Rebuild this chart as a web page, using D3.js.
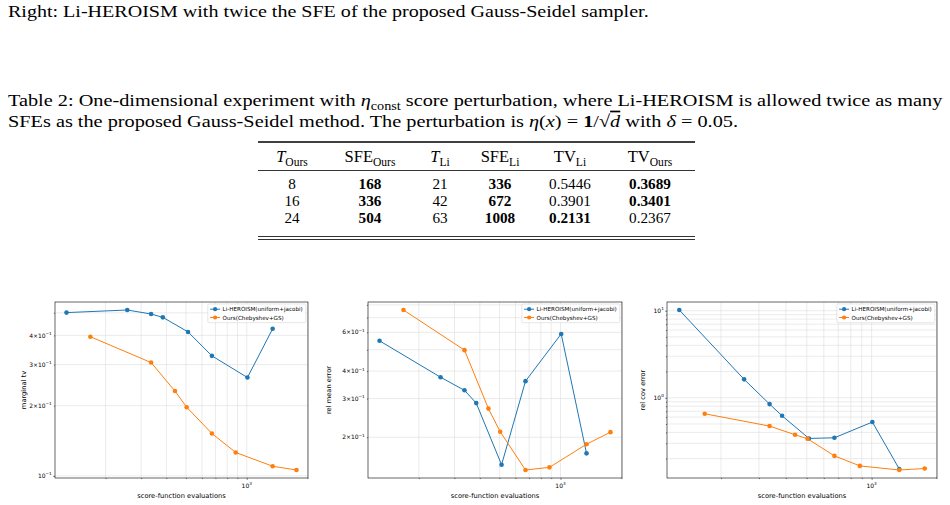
<!DOCTYPE html>
<html><head><meta charset="utf-8">
<script src="https://cdn.jsdelivr.net/npm/d3@7"></script>
<style>body{margin:0;background:#fff}svg{display:block}</style>
</head><body>
<svg id="c" width="950" height="505"></svg>
<script>
// ---------- data ----------
const sfeLi   = [128, 256, 336, 384, 512, 672, 1008, 1344];
const sfeOurs = [168, 336, 441, 504, 672, 882, 1344, 1764];
const tvLi    = [0.501, 0.514, 0.494, 0.478, 0.414, 0.327, 0.264, 0.427];
const tvOurs  = [0.395, 0.306, 0.231, 0.197, 0.152, 0.126, 0.110, 0.106];
const meanLi  = [0.549, 0.375, 0.327, 0.286, 0.150, 0.360, 0.590, 0.169];
const meanOurs= [0.758, 0.498, 0.270, 0.212, 0.142, 0.146, 0.186, 0.211];
const covLi   = [10.19, 1.627, 0.846, 0.621, 0.341, 0.347, 0.526, 0.152];
const covOurs = [0.655, 0.473, 0.376, 0.338, 0.215, 0.165, 0.148, 0.154];
const seriesNames = ["Li-HEROISM(uniform+jacobi)", "Ours(Chebyshev+GS)"];
const xTickLabels = [1000];
const tvTickLabels = [0.1, 0.2, 0.3, 0.4];
const meanTickLabels = [0.2, 0.3, 0.4, 0.6];
const covTickLabels = [1, 10];
const yLabels = ["marginal tv", "rel mean error", "rel cov error"];
const xLabel = "score-function evaluations";

const tableHead = [["T","Ours"],["SFE","Ours"],["T","Li"],["SFE","Li"],["TV","Li"],["TV","Ours"]];
const tOurs  = ["8","16","24"];
const sfeOursT = ["168","336","504"];
const tLi    = ["21","42","63"];
const sfeLiT = ["336","672","1008"];
const tvLiT  = ["0.5446","0.3901","0.2131"];
const tvOursT= ["0.3689","0.3401","0.2367"];
const boldMask = [[0,1,0,1,0,1],[0,1,0,1,0,1],[0,1,0,1,1,0]];

// ---------- text ----------
const svg = d3.select("#c");
const SERIF = "'Liberation Serif','Times New Roman',serif";
const SANS = "'DejaVu Sans',sans-serif";
const colors = ["#1f77b4", "#ff7f0e"];

function rich(x, y, parts, size){
  const t = svg.append("text").attr("x", x).attr("y", y)
    .attr("font-family", SERIF).attr("font-size", size).attr("fill", "#000");
  let shift = 0;
  parts.forEach(p => {
    if (typeof p === "string") p = {t: p};
    const ts = t.append("tspan").text(p.t);
    let target = p.sub ? size*0.22 : 0;
    if (target !== shift) { ts.attr("dy", target - shift); shift = target; }
    if (p.sub) ts.attr("font-size", size*0.7);
    if (p.i) ts.attr("font-style", "italic");
    if (p.b) ts.attr("font-weight", "bold");
    if (p.o) ts.style("text-decoration", "overline");
  });
  return t;
}
function fitWidth(t, x0, w){
  const nat = t.node().getComputedTextLength();
  const sx = w / nat;
  t.attr("transform", `translate(${x0},0) scale(${sx},1) translate(${-x0},0)`);
  return sx;
}
function scaleBy(t, x0, sx){
  t.attr("transform", `translate(${x0},0) scale(${sx},1) translate(${-x0},0)`);
}

const FS = 17;
const l1 = rich(8, 17, ["Right: Li-HEROISM with twice the SFE of the proposed Gauss-Seidel sampler."], FS);
const l2 = rich(8, 106, ["Table 2: One-dimensional experiment with ", {t:"\u03b7", i:1}, {t:"const", sub:1},
  " score perturbation, where Li-HEROISM is allowed twice as many"], FS);
const l3 = rich(8, 127, ["SFEs as the proposed Gauss-Seidel method. The perturbation is ", {t:"\u03b7", i:1}, "(", {t:"x", i:1},
  ") = ", {t:"1", b:1}, "/\u221a", {t:"d", i:1, o:1}, " with ", {t:"\u03b4", i:1}, " = 0.05."], FS);
const sx = fitWidth(l2, 8, 935);
fitWidth(l1, 8, 641);
scaleBy(l3, 8, sx);

// ---------- table ----------
const colX = [292, 370, 440, 500, 570, 650];
const tabL = 258, tabR = 695;
const rule = (y, w) => svg.append("line").attr("x1", tabL).attr("x2", tabR).attr("y1", y).attr("y2", y)
  .attr("stroke", "#000").attr("stroke-width", w);
rule(142, 1.3); rule(170.5, 0.8); rule(236.5, 0.8); rule(239.5, 0.8);
tableHead.forEach((h, j) => {
  const t = rich(colX[j], 162, [{t:h[0], i: h[0]==="T"}, {t:h[1], sub:1}], 16.5);
  t.attr("text-anchor", "middle");
});
const cols = [tOurs, sfeOursT, tLi, sfeLiT, tvLiT, tvOursT];
const rowY = [189, 206, 223];
rowY.forEach((ry, r) => {
  cols.forEach((c, j) => {
    svg.append("text").attr("x", colX[j]).attr("y", ry).attr("text-anchor", "middle")
      .attr("font-family", SERIF).attr("font-size", 15.2)
      .attr("font-weight", boldMask[r][j] ? "bold" : "normal").text(c[r]);
  });
});

// ---------- charts ----------
function logDomain(vals){
  const lo = Math.log10(d3.min(vals)), hi = Math.log10(d3.max(vals)), s = hi - lo;
  return [Math.pow(10, lo - 0.05*s), Math.pow(10, hi + 0.05*s)];
}
function gridVals(dom){
  const out = [];
  for (let e = Math.floor(Math.log10(dom[0])) ; e <= Math.ceil(Math.log10(dom[1])); e++)
    for (let k = 1; k <= 9; k++){ const v = k*Math.pow(10, e); if (v >= dom[0]*0.9999 && v <= dom[1]*1.0001) out.push(+v.toPrecision(6)); }
  return out;
}
function tickText(sel, v, size){
  const e = Math.round(Math.floor(Math.log10(v) + 1e-9));
  const m = Math.round(v / Math.pow(10, e));
  sel.append("tspan").text(m === 1 ? "10" : m + "\u00d710");
  sel.append("tspan").attr("font-size", size*0.7).attr("dy", -size*0.42).text(e < 0 ? "\u2212" + (-e) : String(e));
}
const xDom = logDomain(sfeLi.concat(sfeOurs));

function chart(o){
  const g = svg.append("g");
  const x = d3.scaleLog().domain(xDom).range([o.l, o.r]);
  const y = d3.scaleLog().domain(logDomain(o.a.concat(o.b))).range([o.bot, o.top]);
  const gx = gridVals(x.domain()), gy = gridVals(y.domain());
  g.append("g").selectAll("line").data(gx).join("line")
    .attr("x1", d => x(d)).attr("x2", d => x(d)).attr("y1", o.top).attr("y2", o.bot)
    .attr("stroke", "#dedede").attr("stroke-width", 0.6);
  g.append("g").selectAll("line").data(gy).join("line")
    .attr("y1", d => y(d)).attr("y2", d => y(d)).attr("x1", o.l).attr("x2", o.r)
    .attr("stroke", "#dedede").attr("stroke-width", 0.6);
  const isMajor = d => Math.abs(Math.log10(d) - Math.round(Math.log10(d))) < 1e-6;
  const ax = (axisFn, scale, vals, size, tr) => {
    const a = g.append("g").attr("transform", tr)
      .call(axisFn(scale).tickValues(vals).tickSize(size).tickFormat(""));
    a.select(".domain").remove();
    a.selectAll("line").attr("stroke", "#000").attr("stroke-width", 0.5);
  };
  ax(d3.axisBottom, x, gx.filter(d => !isMajor(d)), 1.1, `translate(0,${o.bot})`);
  ax(d3.axisBottom, x, gx.filter(isMajor), 1.9, `translate(0,${o.bot})`);
  ax(d3.axisLeft, y, gy.filter(d => !isMajor(d)), 1.1, `translate(${o.l},0)`);
  ax(d3.axisLeft, y, gy.filter(isMajor), 1.9, `translate(${o.l},0)`);
  const TS = 6.0;
  xTickLabels.forEach(v => {
    const t = g.append("text").attr("x", x(v)).attr("y", o.bot + 9.7).attr("text-anchor", "middle")
      .attr("font-family", SANS).attr("font-size", TS).attr("fill", "#000");
    tickText(t, v, TS);
  });
  o.ticks.forEach(v => {
    const t = g.append("text").attr("x", o.l - 3.2).attr("y", y(v) + 2.1).attr("text-anchor", "end")
      .attr("font-family", SANS).attr("font-size", TS).attr("fill", "#000");
    tickText(t, v, TS);
  });
  g.append("text").attr("x", (o.l + o.r)/2).attr("y", 498).attr("text-anchor", "middle")
    .attr("font-family", SANS).attr("font-size", 6.7).attr("fill", "#000").text(xLabel);
  g.append("text").attr("transform", `translate(${o.yl},${(o.top + o.bot)/2}) rotate(-90)`)
    .attr("text-anchor", "middle").attr("font-family", SANS).attr("font-size", 6.7).attr("fill", "#000").text(o.ylabel);
  const line = d3.line().x(d => x(d[0])).y(d => y(d[1]));
  [[sfeLi, o.a], [sfeOurs, o.b]].forEach((s, i) => {
    const pts = s[0].map((v, k) => [v, s[1][k]]);
    g.append("path").attr("d", line(pts)).attr("fill", "none").attr("stroke", colors[i]).attr("stroke-width", 1);
    g.append("g").selectAll("circle").data(pts).join("circle")
      .attr("cx", d => x(d[0])).attr("cy", d => y(d[1])).attr("r", 2.3).attr("fill", colors[i]);
  });
  g.append("rect").attr("x", o.l).attr("y", o.top).attr("width", o.r - o.l).attr("height", o.bot - o.top)
    .attr("fill", "none").attr("stroke", "#000").attr("stroke-width", 0.6);
  const lw = 98, lx = o.r - 2.2 - lw, ly = o.top + 2;
  g.append("rect").attr("x", lx).attr("y", ly).attr("width", lw).attr("height", 18.7).attr("rx", 1.2)
    .attr("fill", "#fff").attr("fill-opacity", 0.85).attr("stroke", "#cfcfcf").attr("stroke-width", 0.5);
  seriesNames.forEach((nm, i) => {
    const yy = ly + 5.2 + i*8.3;
    g.append("line").attr("x1", lx + 2.3).attr("x2", lx + 12.3).attr("y1", yy).attr("y2", yy)
      .attr("stroke", colors[i]).attr("stroke-width", 1);
    g.append("circle").attr("cx", lx + 7.3).attr("cy", yy).attr("r", 2.1).attr("fill", colors[i]);
    g.append("text").attr("x", lx + 14.8).attr("y", yy + 2).attr("font-family", SANS).attr("font-size", 5.6)
      .attr("fill", "#000").text(nm);
  });
}

chart({l: 55, r: 308, top: 302, bot: 478, a: tvLi, b: tvOurs, ticks: tvTickLabels, ylabel: yLabels[0], yl: 26});
chart({l: 368, r: 622, top: 302, bot: 478, a: meanLi, b: meanOurs, ticks: meanTickLabels, ylabel: yLabels[1], yl: 331});
chart({l: 667, r: 937, top: 302, bot: 478, a: covLi, b: covOurs, ticks: covTickLabels, ylabel: yLabels[2], yl: 645});
</script>
</body></html>
